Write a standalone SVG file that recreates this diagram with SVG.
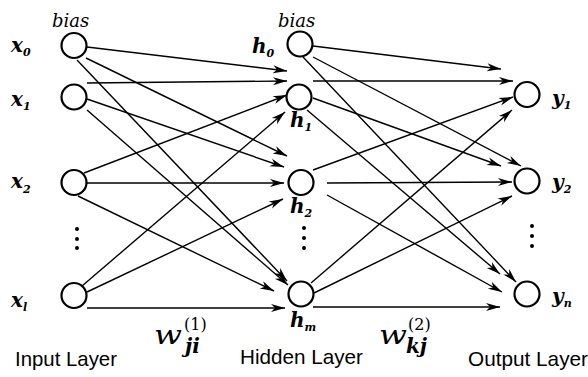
<svg xmlns="http://www.w3.org/2000/svg" width="588" height="377" viewBox="0 0 588 377">
<style>
.node{fill:#fff;stroke:#000;stroke-width:2.2}
.ea{stroke:#000;stroke-width:1.4;fill:none;marker-end:url(#ah)}
.m{font-family:'DejaVu Serif',serif;font-style:italic;font-weight:700;fill:#000;font-size:20px}
.sub{font-size:11px}
.b{font-family:'DejaVu Serif',serif;font-style:italic;fill:#000;font-size:18px}
.s{font-family:'Liberation Sans',Arial,sans-serif;fill:#000;font-size:21px}
.w{font-family:'DejaVu Serif',serif;font-style:italic;fill:#000;font-size:26px}
.sup{font-family:'DejaVu Serif',serif;fill:#000;font-size:16px}
.dot{fill:#000}
</style>
<defs>
<marker id="ah" markerUnits="userSpaceOnUse" markerWidth="16" markerHeight="10" refX="14" refY="4" orient="auto" overflow="visible">
<path d="M0,0 L14,4 L0,8 L4,4 z" fill="#000"/>
</marker>
</defs>
<g id="connectors">
<line class="ea" x1="87" y1="47" x2="287" y2="71"/>
<line class="ea" x1="87" y1="83" x2="287" y2="81"/>
<line class="ea" x1="84" y1="173" x2="287" y2="95"/>
<line class="ea" x1="82" y1="286" x2="285" y2="112"/>
<line class="ea" x1="86" y1="58" x2="287" y2="156"/>
<line class="ea" x1="87" y1="99" x2="284" y2="167"/>
<line class="ea" x1="87" y1="183" x2="284" y2="183"/>
<line class="ea" x1="87" y1="292" x2="283" y2="199"/>
<line class="ea" x1="77" y1="60" x2="287" y2="281"/>
<line class="ea" x1="87" y1="110" x2="288" y2="285"/>
<line class="ea" x1="78" y1="196" x2="274" y2="291"/>
<line class="ea" x1="87" y1="308" x2="285" y2="308"/>
<line class="ea" x1="313" y1="46" x2="501" y2="69"/>
<line class="ea" x1="313" y1="81" x2="513" y2="81"/>
<line class="ea" x1="313" y1="170" x2="513" y2="97"/>
<line class="ea" x1="311" y1="283" x2="512" y2="110"/>
<line class="ea" x1="313" y1="57" x2="521" y2="166"/>
<line class="ea" x1="313" y1="98" x2="501" y2="166"/>
<line class="ea" x1="327" y1="183" x2="512" y2="182"/>
<line class="ea" x1="314" y1="293" x2="512" y2="196"/>
<line class="ea" x1="303" y1="57" x2="516" y2="282"/>
<line class="ea" x1="307" y1="110" x2="500" y2="274"/>
<line class="ea" x1="327" y1="195" x2="502" y2="292"/>
<line class="ea" x1="313" y1="307" x2="500" y2="307"/>
</g>
<g id="x0"><circle class="node" cx="74" cy="45.5" r="12.5"/><text class="m" x="11" y="52">x<tspan class="sub" dy="4">0</tspan></text><text class="b" x="52" y="27">bias</text></g>
<g id="x1"><circle class="node" cx="74" cy="97" r="12.5"/><text class="m" x="11" y="106">x<tspan class="sub" dy="4">1</tspan></text></g>
<g id="x2"><circle class="node" cx="74" cy="182.5" r="12.5"/><text class="m" x="11" y="188">x<tspan class="sub" dy="5">2</tspan></text></g>
<g id="xdots"><circle class="dot" cx="77" cy="229" r="2"/><circle class="dot" cx="77" cy="239" r="2"/><circle class="dot" cx="77" cy="248" r="2"/></g>
<g id="xl"><circle class="node" cx="74" cy="295.5" r="12.5"/><text class="m" x="11" y="307">x<tspan class="sub" dy="4">l</tspan></text></g>
<g id="h0"><circle class="node" cx="300" cy="44" r="12.5"/><text class="m" x="252" y="53">h<tspan class="sub" dy="4">0</tspan></text><text class="b" x="278" y="27">bias</text></g>
<g id="h1"><circle class="node" cx="299" cy="97" r="12.5"/><text class="m" x="290" y="127">h<tspan class="sub" dy="4">1</tspan></text></g>
<g id="h2"><circle class="node" cx="301" cy="182.5" r="12.5"/><text class="m" x="290" y="213">h<tspan class="sub" dy="4">2</tspan></text></g>
<g id="hdots"><circle class="dot" cx="304" cy="228" r="2"/><circle class="dot" cx="304" cy="238" r="2"/><circle class="dot" cx="304" cy="248" r="2"/></g>
<g id="hm"><circle class="node" cx="301" cy="294" r="12.5"/><text class="m" x="290" y="327">h<tspan class="sub" dy="4">m</tspan></text></g>
<g id="y1"><circle class="node" cx="527" cy="94.5" r="12.5"/><text class="m" x="552" y="105">y<tspan class="sub" dy="4">1</tspan></text></g>
<g id="y2"><circle class="node" cx="527" cy="181" r="12.5"/><text class="m" x="552" y="189">y<tspan class="sub" dy="4">2</tspan></text></g>
<g id="ydots"><circle class="dot" cx="532" cy="226" r="2"/><circle class="dot" cx="532" cy="236" r="2"/><circle class="dot" cx="532" cy="246" r="2"/></g>
<g id="yn"><circle class="node" cx="527" cy="294" r="12.5"/><text class="m" x="552" y="303">y<tspan class="sub" dy="4">n</tspan></text></g>
<g id="w1"><text class="w" x="154" y="344" textLength="28" lengthAdjust="spacingAndGlyphs">w</text><text class="sup" x="184" y="330">(1)</text><text class="m" x="185" y="353" font-size="12">ji</text></g>
<g id="w2"><text class="w" x="379" y="344" textLength="28" lengthAdjust="spacingAndGlyphs">w</text><text class="sup" x="408" y="330">(2)</text><text class="m" x="406" y="353" font-size="12">kj</text></g>
<g id="labels">
<text class="s" x="15" y="366" textLength="102" lengthAdjust="spacingAndGlyphs">Input Layer</text>
<text class="s" x="240" y="364" textLength="123" lengthAdjust="spacingAndGlyphs">Hidden Layer</text>
<text class="s" x="468" y="366" textLength="120" lengthAdjust="spacingAndGlyphs">Output Layer</text>
</g>
</svg>
